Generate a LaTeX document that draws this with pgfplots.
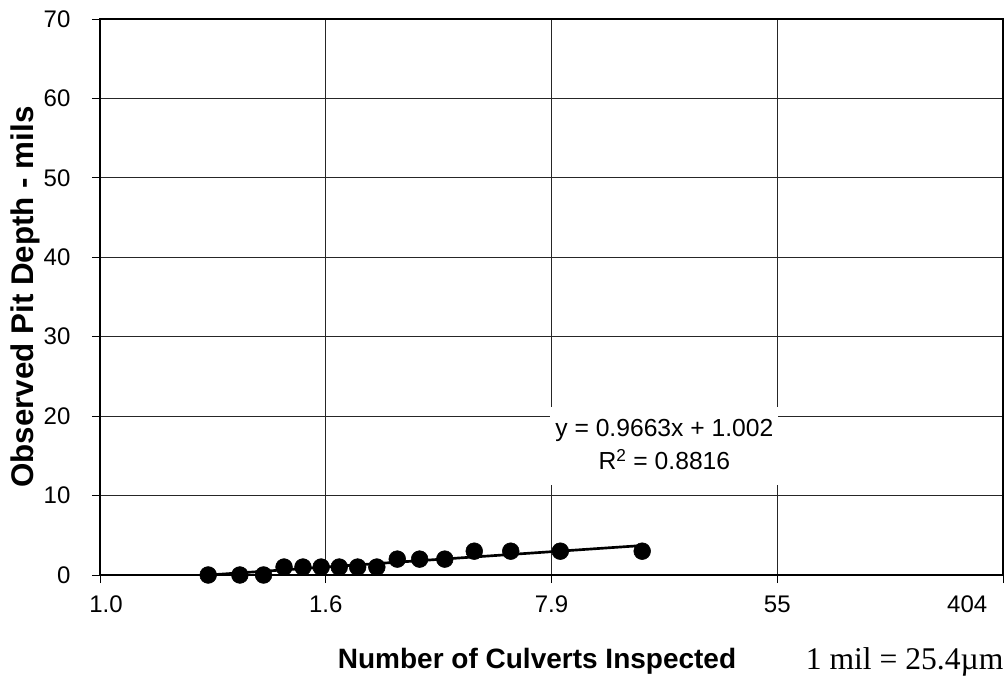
\documentclass[border=0pt]{standalone}
\usepackage{pgfplots}
\pgfplotsset{compat=1.18}
\usepackage{fontspec}
\setmainfont{Liberation Sans}
\newfontfamily\timesfont{Liberation Serif}
\begin{document}
\begin{tikzpicture}
\begin{axis}[
 width=677.25pt, height=417pt, scale only axis,
 xmin=-2, xmax=6, ymin=0, ymax=70,
 xtick={-2,0,2,4,6},
 xticklabels={\makebox[0pt][c]{\hspace{9pt}1.0},1.6,7.9,55,\makebox[0pt][r]{404\hspace{11.8pt}}},
 ytick={0,10,...,70},
 grid=major, major grid style={black!85, line width=0.6pt},
 axis line style={black, line width=0.8pt},
 tick align=outside, tick pos=left, major tick length=6pt,
 tick style={black, line width=0.6pt},
 ticklabel style={font=\fontsize{18}{20}\selectfont},
 yticklabel style={anchor=east, inner sep=0pt, xshift=-16pt},
 xticklabel style={anchor=north, inner sep=0pt, yshift=-9.5pt},
 /pgf/number format/assume math mode=true,
 xlabel={\textbf{Number of Culverts Inspected}},
 ylabel={\textbf{Observed Pit Depth - mils}},
 xlabel style={font=\fontsize{21}{24}\selectfont, at={(axis description cs:0.484,-0.156)}, anchor=center},
 ylabel style={font=\fontsize{23.5}{26}\selectfont, at={(axis description cs:-0.083,0.5)}, anchor=center},
 clip=false,
]
\coordinate (sw) at (rel axis cs:0,0);
\coordinate (ne) at (rel axis cs:1,1);
\fill[white] (axis cs:1.99,11.3) rectangle (axis cs:4.01,21.2);
\node[align=center, font=\fontsize{18.5}{25}\selectfont] at (axis cs:3.0,16.4)
  {y = 0.9663x + 1.002\\R\textsuperscript{2} = 0.8816};
\addplot[black, line width=2pt, no marks] coordinates {(-1.0414,-0.0043) (2.8034,3.7109)};
\addplot[only marks, mark=*, mark size=6.3pt, mark options={fill=black, draw=black}] coordinates {
(-1.0414,0) (-0.7608,0) (-0.5508,0) (-0.3694,1) (-0.2020,1) (-0.0407,1)
(0.1196,1) (0.2826,1) (0.4526,1) (0.6337,2) (0.8317,2) (1.0547,2)
(1.3157,3) (1.6388,3) (2.0779,3) (2.8034,3)};
\node[font=\timesfont\fontsize{23.7}{26}\selectfont] at (axis description cs:0.891,-0.156) {1 mil = 25.4\textmu m};
\end{axis}
\pgfresetboundingbox
\path ([shift={(-75pt,-81.75pt)}]sw) rectangle ([shift={(3.75pt,14.25pt)}]ne);
\end{tikzpicture}
\end{document}
